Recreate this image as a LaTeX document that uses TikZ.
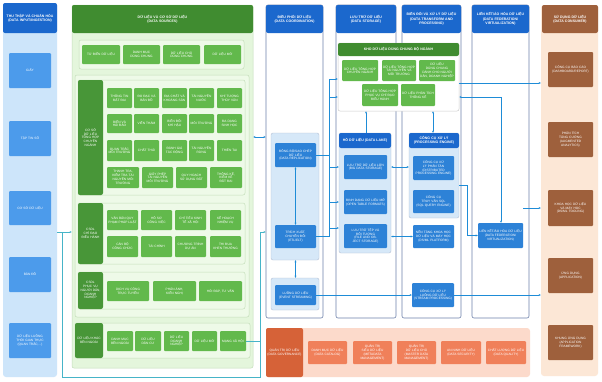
\documentclass[tikz,border=0pt]{standalone}
\usepackage{fontspec}
\setmainfont{Liberation Sans}
\setsansfont{Liberation Sans}
\usepackage{tikz}
\usetikzlibrary{arrows.meta}
\definecolor{headblue}{RGB}{27,104,205}
\definecolor{inbox}{RGB}{76,155,235}
\definecolor{inpale}{RGB}{205,229,250}
\definecolor{boxblue}{RGB}{45,130,215}
\definecolor{lakepale}{RGB}{214,232,248}
\definecolor{colline}{RGB}{110,130,170}
\definecolor{greenhead}{RGB}{64,140,48}
\definecolor{greenbox}{RGB}{98,185,76}
\definecolor{greenlabel}{RGB}{72,150,56}
\definecolor{greenpale}{RGB}{228,246,220}
\definecolor{greengrp}{RGB}{238,250,232}
\definecolor{greenedge}{RGB}{196,222,186}
\definecolor{consbrown}{RGB}{158,96,60}
\definecolor{peach}{RGB}{252,231,214}
\definecolor{govdark}{RGB}{214,98,56}
\definecolor{govbox}{RGB}{240,128,90}
\definecolor{govpale}{RGB}{252,218,203}
\definecolor{flowblue}{RGB}{30,140,215}
\definecolor{loopteal}{RGB}{70,180,200}
\newcommand{\tinyfont}{\fontsize{3.2}{3.8}\selectfont}
\newcommand{\headfont}{\fontsize{3.5}{4.4}\selectfont\bfseries}
\tikzstyle{tilebase} = [inner sep=0pt, align=center, text=white, font=\tinyfont]
\tikzstyle{inbg} = [tilebase, fill=inpale, rounded corners=3pt]
\tikzstyle{colhead} = [tilebase, fill=headblue, rounded corners=2pt, font=\headfont]
\tikzstyle{inblock} = [tilebase, fill=inbox, rounded corners=1pt]
\tikzstyle{srcbg} = [tilebase, fill=greenpale, draw=greenedge, line width=0.5pt, rounded corners=2pt]
\tikzstyle{greentop} = [tilebase, fill=greenhead, rounded corners=2pt, font=\headfont]
\tikzstyle{grp} = [tilebase, fill=greengrp, draw=greenedge, line width=0.5pt, rounded corners=2pt]
\tikzstyle{glabel} = [tilebase, fill=greenlabel, rounded corners=2pt]
\tikzstyle{gbox} = [tilebase, fill=greenbox, rounded corners=1pt]
\tikzstyle{colbox} = [tilebase, fill=white, draw=colline, line width=0.6pt, rounded corners=2pt]
\tikzstyle{lightgrp} = [tilebase, fill=lakepale, draw=colline!50, line width=0.4pt, rounded corners=2pt]
\tikzstyle{bbox} = [tilebase, fill=boxblue, rounded corners=1pt]
\tikzstyle{khobg} = [tilebase, fill=white, draw=black!20, line width=0.5pt, rounded corners=2pt]
\tikzstyle{consbg} = [tilebase, fill=peach, rounded corners=3pt]
\tikzstyle{brownhead} = [tilebase, fill=consbrown, rounded corners=2pt, font=\headfont]
\tikzstyle{brownbox} = [tilebase, fill=consbrown, rounded corners=1pt]
\tikzstyle{govbg} = [tilebase, fill=govpale, rounded corners=3pt]
\tikzstyle{govlabel} = [tilebase, fill=govdark, rounded corners=2pt]
\tikzstyle{govtile} = [tilebase, fill=govbox, rounded corners=1pt]
\tikzstyle{flow} = [-{Stealth[length=2.2pt,width=2pt]}, line width=0.55pt, draw=flowblue]
\tikzstyle{flowboth} = [{Stealth[length=2.2pt,width=2pt]}-{Stealth[length=2.2pt,width=2pt]}, line width=0.55pt, draw=flowblue]
\tikzstyle{flowline} = [line width=0.55pt, draw=flowblue]
\tikzstyle{loopline} = [line width=0.6pt, draw=loopteal]
\tikzstyle{looparrow} = [-{Stealth[length=2.2pt,width=2pt]}, line width=0.6pt, draw=loopteal]
% tile: style, name, x1, y1, x2, y2, text (pixel coordinates, y downwards)
\newcommand{\tile}[7]{%
  \pgfmathsetmacro{\tilew}{#5-#3}%
  \pgfmathsetmacro{\tileh}{#6-#4}%
  \pgfmathsetmacro{\tiletw}{max(#5-#3-2,1)}%
  \node[#1, minimum width=\tilew pt, minimum height=\tileh pt, text width=\tiletw pt]
    (#2) at ({(#3+#5)/2},{(#4+#6)/2}) {#7};%
}

\begin{document}
\begin{tikzpicture}[x=1pt, y=-1pt]
    \useasboundingbox[fill=white] (0,0) rectangle (602,381);

    % input / ingestion
    \tile{inbg}{incol}{3}{3}{57}{377}{}
    \tile{colhead}{inhd}{3}{3}{57}{33}{THU THẬP VÀ CHUẨN HÓA\\(DATA INPUT/INGESTION)}
    \tile{inblock}{giay}{9}{53}{51}{88}{GIẤY}
    \tile{inblock}{taptin}{9}{121}{51}{156}{TẬP TIN SỐ}
    \tile{inblock}{csdl}{9}{191}{51}{225}{CƠ SỞ DỮ LIỆU}
    \tile{inblock}{bando}{9}{257}{51}{292}{BẢN ĐỒ}
    \tile{inblock}{luong}{9}{323}{51}{358}{DỮ LIỆU LUỒNG\\THỜI GIAN THỰC\\(QUAN TRẮC,...)}

    % data sources
    \tile{srcbg}{src}{72}{5}{253}{368}{}
    \tile{greentop}{srchd}{72}{5}{253}{33}{DỮ LIỆU VÀ CƠ SỞ DỮ LIỆU\\(DATA SOURCES)}
    \tile{grp}{g0}{79}{40}{244}{69}{}
    \tile{gbox}{d1}{82}{45}{120}{64}{TỪ ĐIỂN DỮ LIỆU}
    \tile{gbox}{d2}{123}{45}{160}{64}{DANH MỤC\\DÙNG CHUNG}
    \tile{gbox}{d3}{163}{45}{200}{64}{DỮ LIỆU CHỦ\\DÙNG CHUNG}
    \tile{gbox}{d4}{204}{45}{241}{64}{DỮ LIỆU MỞ}
    \tile{grp}{g1}{75}{75}{249}{317}{}

    \tile{grp}{ga}{78}{80}{245}{195}{}
    \tile{glabel}{la}{78}{80}{103}{195}{CƠ SỞ\\DỮ LIỆU\\TỔNG HỢP\\CHUYÊN\\NGÀNH}
    \tile{gbox}{a11}{107}{88}{132}{108}{THÔNG TIN\\ĐẤT ĐAI}
    \tile{gbox}{a12}{134}{88}{159}{108}{ĐO ĐẠC VÀ\\BẢN ĐỒ}
    \tile{gbox}{a13}{162}{88}{187}{108}{ĐỊA CHẤT VÀ\\KHOÁNG SẢN}
    \tile{gbox}{a14}{189}{88}{214}{108}{TÀI NGUYÊN\\NƯỚC}
    \tile{gbox}{a15}{217}{88}{242}{108}{KHÍ TƯỢNG\\THỦY VĂN}
    \tile{gbox}{a21}{107}{114}{132}{133}{BIỂN VÀ\\HẢI ĐẢO}
    \tile{gbox}{a22}{134}{114}{159}{133}{VIỄN THÁM}
    \tile{gbox}{a23}{162}{114}{187}{133}{BIẾN ĐỔI\\KHÍ HẬU}
    \tile{gbox}{a24}{189}{114}{214}{133}{MÔI TRƯỜNG}
    \tile{gbox}{a25}{217}{114}{242}{133}{ĐA DẠNG\\SINH HỌC}
    \tile{gbox}{a31}{107}{140}{132}{161}{QUAN TRẮC\\MÔI TRƯỜNG}
    \tile{gbox}{a32}{134}{140}{159}{161}{CHẤT THẢI}
    \tile{gbox}{a33}{162}{140}{187}{161}{ĐÁNH GIÁ\\TÁC ĐỘNG}
    \tile{gbox}{a34}{189}{140}{214}{161}{TÀI NGUYÊN\\RỪNG}
    \tile{gbox}{a35}{217}{140}{242}{161}{THIÊN TAI}
    \tile{gbox}{a41}{107}{167}{139}{188}{THANH TRA,\\KIỂM TRA TÀI\\NGUYÊN MÔI TRƯỜNG}
    \tile{gbox}{a42}{142}{167}{173}{188}{GIẤY PHÉP\\TÀI NGUYÊN\\MÔI TRƯỜNG}
    \tile{gbox}{a43}{176}{167}{207}{188}{QUY HOẠCH\\SỬ DỤNG ĐẤT}
    \tile{gbox}{a44}{210}{167}{242}{188}{THỐNG KÊ,\\KIỂM KÊ\\ĐẤT ĐAI}

    \tile{grp}{gb}{78}{203}{245}{264}{}
    \tile{glabel}{lb}{78}{203}{103}{264}{CSDL\\CHỈ ĐẠO\\ĐIỀU HÀNH}
    \tile{gbox}{b11}{107}{210}{138}{230}{VĂN BẢN QUY\\PHẠM PHÁP LUẬT}
    \tile{gbox}{b12}{141}{210}{172}{230}{HỒ SƠ\\CÔNG VIỆC}
    \tile{gbox}{b13}{175}{210}{206}{230}{CHỈ TIÊU KINH\\TẾ XÃ HỘI}
    \tile{gbox}{b14}{210}{210}{241}{230}{KẾ HOẠCH\\NHIỆM VỤ}
    \tile{gbox}{b21}{107}{236}{138}{257}{CÁN BỘ\\CÔNG CHỨC}
    \tile{gbox}{b22}{141}{236}{172}{257}{TÀI CHÍNH}
    \tile{gbox}{b23}{175}{236}{206}{257}{CHƯƠNG TRÌNH\\DỰ ÁN}
    \tile{gbox}{b24}{210}{236}{241}{257}{THI ĐUA\\KHEN THƯỞNG}

    \tile{grp}{gc}{78}{272}{245}{309}{}
    \tile{glabel}{lc}{78}{272}{103}{309}{CSDL\\PHỤC VỤ\\NGƯỜI DÂN,\\DOANH NGHIỆP}
    \tile{gbox}{c1}{107}{281}{149}{301}{DỊCH VỤ CÔNG\\TRỰC TUYẾN}
    \tile{gbox}{c2}{153}{281}{196}{301}{PHẢN ÁNH,\\KIẾN NGHỊ}
    \tile{gbox}{c3}{199}{281}{242}{301}{HỎI ĐÁP, TƯ VẤN}

    \tile{grp}{gd}{75}{323}{250}{358}{}
    \tile{glabel}{ld}{75}{323}{103}{358}{DỮ LIỆU KHÁC\\BÊN NGOÀI}
    \tile{gbox}{e1}{107}{331}{133}{351}{DANH MỤC\\BÊN NGOÀI}
    \tile{gbox}{e2}{135}{331}{161}{351}{DỮ LIỆU\\DÂN CƯ}
    \tile{gbox}{e3}{164}{331}{189}{351}{DỮ LIỆU\\DOANH NGHIỆP}
    \tile{gbox}{e4}{192}{331}{217}{351}{DỮ LIỆU MỞ}
    \tile{gbox}{e5}{220}{331}{246}{351}{MẠNG XÃ HỘI}

    % coordination, storage, transform, federation
    \tile{colbox}{coordcol}{266}{5}{323}{318}{}
    \tile{colhead}{coordhd}{266}{5}{323}{33}{ĐIỀU PHỐI DỮ LIỆU\\(DATA COORDINATION)}
    \tile{lightgrp}{cg1}{271}{133}{319}{260}{}
    \tile{bbox}{repl}{275}{143}{316}{167}{ĐỒNG BỘ/SAO CHÉP\\DỮ LIỆU\\(DATA REPLICATION)}
    \tile{bbox}{etl}{275}{225}{316}{248}{TRÍCH XUẤT,\\CHUYỂN ĐỔI\\(ETL/ELT)}
    \tile{lightgrp}{cg2}{271}{278}{319}{310}{}
    \tile{bbox}{strm}{275}{285}{316}{305}{LUỒNG DỮ LIỆU\\(EVENT STREAMING)}

    \tile{colbox}{storcol}{336}{5}{396}{318}{}
    \tile{colhead}{storhd}{336}{5}{396}{33}{LƯU TRỮ DỮ LIỆU\\(DATA STORAGE)}
    \tile{colbox}{transcol}{402}{5}{461}{318}{}
    \tile{colhead}{transhd}{402}{5}{461}{33}{BIẾN ĐỔI VÀ XỬ LÝ DỮ LIỆU\\(DATA TRANSFORM AND\\PROCESSING)}
    \tile{colbox}{fedcol}{472}{5}{529}{318}{}
    \tile{colhead}{fedhd}{472}{5}{529}{33}{LIÊN KẾT/ẢO HÓA DỮ LIỆU\\(DATA FEDERATION/\\VIRTUALIZATION)}

    \tile{khobg}{kho}{338}{43}{459}{111}{}
    \tile{greentop}{khohd}{338}{43}{459}{56}{KHO DỮ LIỆU DÙNG CHUNG BỘ NGÀNH}
    \tile{gbox}{k1}{342}{60}{378}{81}{DỮ LIỆU TỔNG HỢP\\CHUYÊN NGÀNH}
    \tile{gbox}{k2}{382}{60}{416}{81}{DỮ LIỆU TỔNG HỢP\\TÀI NGUYÊN VÀ\\MÔI TRƯỜNG}
    \tile{gbox}{k3}{419}{60}{455}{81}{DỮ LIỆU DÙNG CHUNG\\DÀNH CHO NGƯỜI\\DÂN, DOANH NGHIỆP}
    \tile{gbox}{k4}{362}{84}{398}{106}{DỮ LIỆU TỔNG HỢP\\PHỤC VỤ CHỈ ĐẠO\\ĐIỀU HÀNH}
    \tile{gbox}{k5}{401}{84}{435}{106}{DỮ LIỆU PHÂN TÍCH\\THỐNG KÊ}

    \tile{lightgrp}{lake}{339}{133}{391}{253}{}
    \tile{colhead}{lakehd}{339}{133}{391}{148}{HỒ DỮ LIỆU (DATA LAKE)}
    \tile{bbox}{bigd}{344}{155}{387}{179}{LƯU TRỮ DỮ LIỆU LỚN\\(BIG DATA STORAGE)}
    \tile{bbox}{otf}{344}{190}{387}{214}{ĐỊNH DẠNG DỮ LIỆU MỞ\\(OPEN TABLE FORMATS)}
    \tile{bbox}{fobj}{344}{224}{387}{248}{LƯU TRỮ TỆP VÀ\\ĐỐI TƯỢNG\\(FILE AND OBJECT STORAGE)}

    \tile{lightgrp}{proc}{409}{133}{459}{218}{}
    \tile{colhead}{prochd}{409}{133}{459}{148}{CÔNG CỤ XỬ LÝ\\(PROCESSING ENGINE)}
    \tile{bbox}{dpe}{413}{156}{454}{180}{CÔNG CỤ XỬ LÝ PHÂN TÁN\\(DISTRIBUTED\\PROCESSING ENGINE)}
    \tile{bbox}{sqle}{413}{190}{454}{213}{CÔNG CỤ TRUY VẤN SQL\\(SQL QUERY ENGINE)}
    \tile{bbox}{dsml}{413}{225}{454}{248}{NỀN TẢNG KHOA HỌC\\DỮ LIỆU VÀ MÁY HỌC\\(DS/ML PLATFORM)}
    \tile{bbox}{sproc}{412}{283}{454}{307}{CÔNG CỤ XỬ LÝ\\LUỒNG DỮ LIỆU\\(STREAM PROCESSING)}
    \tile{bbox}{fed}{478}{223}{523}{248}{LIÊN KẾT/ẢO HÓA DỮ LIỆU\\(DATA FEDERATION/\\VIRTUALIZATION)}

    % data consumer
    \tile{consbg}{cons}{541}{5}{598}{376}{}
    \tile{brownhead}{conshd}{542}{5}{598}{33}{SỬ DỤNG DỮ LIỆU\\(DATA CONSUMER)}
    \tile{brownbox}{rep}{548}{52}{593}{87}{CÔNG CỤ BÁO CÁO\\(DASHBOARD/REPORT)}
    \tile{brownbox}{aug}{548}{122}{593}{157}{PHÂN TÍCH\\TĂNG CƯỜNG\\(AUGMENTED\\ANALYTICS)}
    \tile{brownbox}{dst}{548}{190}{593}{226}{KHOA HỌC DỮ LIỆU\\VÀ MÁY HỌC\\(DS/ML TOOLING)}
    \tile{brownbox}{app}{548}{258}{593}{293}{ỨNG DỤNG\\(APPLICATION)}
    \tile{brownbox}{afw}{548}{325}{593}{360}{KHUNG ỨNG DỤNG\\(APPLICATION\\FRAMEWORK)}

    % data governance
    \tile{govbg}{gov}{266}{328}{530}{377}{}
    \tile{govlabel}{govhd}{266}{328}{303}{377}{QUẢN TRỊ DỮ LIỆU\\(DATA GOVERNANCE)}
    \tile{govtile}{gv1}{308}{341}{347}{364}{DANH MỤC DỮ LIỆU\\(DATA CATALOG)}
    \tile{govtile}{gv2}{353}{341}{392}{364}{QUẢN TRỊ SIÊU DỮ LIỆU\\(METADATA\\MANAGEMENT)}
    \tile{govtile}{gv3}{397}{341}{436}{364}{QUẢN TRỊ DỮ LIỆU CHỦ\\(MASTER DATA\\MANAGEMENT)}
    \tile{govtile}{gv4}{441}{341}{481}{364}{AN NINH DỮ LIỆU\\(DATA SECURITY)}
    \tile{govtile}{gv5}{486}{341}{526}{364}{CHẤT LƯỢNG DỮ LIỆU\\(DATA QUALITY)}

    % connectors
    \coordinate (j1) at (62,232);
    \coordinate (j2) at (260,377);
    \coordinate (j4) at (260,137);
    \draw[looparrow] (incol.east |- j1) -- (src.west |- j1);
    \draw[looparrow] (j1) |- (j2) |- (coordcol.west |- j1);
    \draw[loopline] (e5.east) -- (e5.east -| j2);
    \draw[flowboth] (src.east |- j4) -- (coordcol.west |- j4);

    \draw[flowboth] (repl.south) -- (etl.north);
    \draw[flowboth] (cg1.south -| strm) -- (cg2.north -| strm);

    \coordinate (t0) at (329,79);
    \coordinate (t1) at (329,97);
    \coordinate (t2) at (329,167);
    \coordinate (t3) at (329,202);
    \coordinate (t4) at (329,228);
    \draw[flowline] (repl.east) -- (repl.east -| t0);
    \draw[flowline] (etl.east) -- (etl.east -| t0) -- (t0);
    \foreach \t in {t0,t1} \draw[flow] (\t) -- (kho.west |- \t);
    \foreach \t in {t2,t3,t4} \draw[flow] (\t) -- (lake.west |- \t);

    \coordinate (v1) at (366,120);
    \coordinate (v2) at (433,120);
    \draw[flow] (lake.north -| v1) -- (kho.south -| v1);
    \draw[flowboth] (kho.south -| v2) -- (proc.north -| v2);
    \draw[flowboth] (lake.east |- bigd) -- (proc.west |- bigd);
    \draw[flowboth] (lake.east |- dsml) -- (dsml.west);

    \draw[flow] (strm.east) -- (sproc.west);
    \draw[flow] (sproc.east) -- (cons.west |- sproc.east);

    \coordinate (r1) at (500,83);
    \coordinate (f1) at (501,97);
    \coordinate (f2) at (467,185);
    \draw[flow] (kho.east |- r1) -- (cons.west |- r1);
    \draw[flowboth] (kho.east |- f1) -| (fed.north -| f1);
    \draw[flow] (proc.east |- f2) -- (f2) |- (fed.west);
    \draw[flow] (fed.east |- dst) -- (cons.west |- dst);
\end{tikzpicture}
\end{document}
